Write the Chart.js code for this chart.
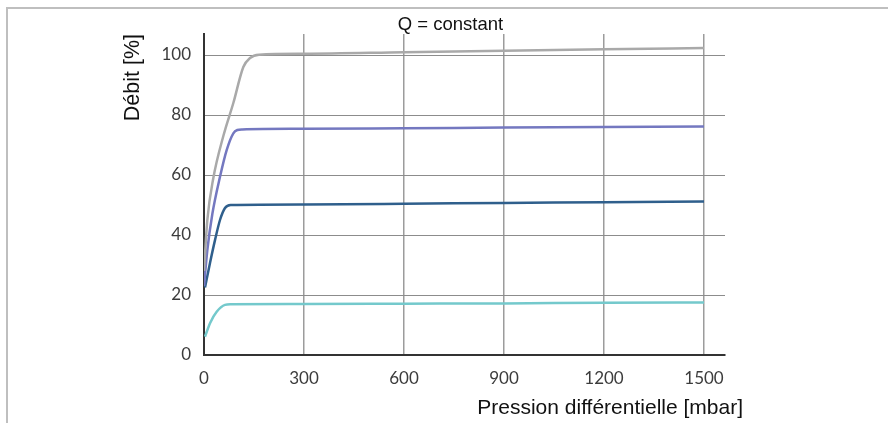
<!DOCTYPE html>
<html>
<head>
<meta charset="utf-8">
<script src="https://cdn.jsdelivr.net/npm/chart.js@4/dist/chart.umd.min.js"></script>
<style>
  html, body { margin: 0; padding: 0; background: #fff; }
  #wrap { position: relative; width: 888px; height: 423px; }
  #frame { position: absolute; left: 6px; top: 7px; right: 0; bottom: 0;
           border-left: 2px solid #bfbfbf; border-top: 2px solid #bfbfbf; }
  #c { position: absolute; left: 0; top: 0; }
</style>
</head>
<body>
<div id="wrap">
  <div id="frame"></div>
  <canvas id="c" width="888" height="423"></canvas>
</div>
<script>
/* Débit vs pression différentielle — Q = constant */

// ── Data ─────────────────────────────────────────────────────
const X_TICKS = [0, 300, 600, 900, 1200, 1500];
const Y_TICKS = [0, 20, 40, 60, 80, 100];

const P_100 = [0, 10, 28, 58, 88, 118, 138, 165, 300, 600, 900, 1200, 1500];
const Q_100 = [28, 45, 59, 73, 84, 96, 99, 100.1, 100.4, 100.9, 101.4, 101.9, 102.3];

const P_75 = [0, 10, 25, 48, 68, 88, 100, 115, 300, 600, 900, 1200, 1500];
const Q_75 = [23, 35, 47, 59.4, 68.3, 73.9, 75, 75.2, 75.4, 75.6, 75.8, 76.0, 76.2];

const P_50 = [3, 18, 33, 48, 63, 80, 300, 600, 900, 1200, 1500];
const Q_50 = [22.5, 30.7, 38.3, 45, 49, 50, 50.2, 50.4, 50.7, 50.9, 51.2];

const P_17 = [3, 18, 38, 63, 80, 300, 600, 900, 1200, 1500];
const Q_17 = [6.1, 10.6, 14.4, 16.7, 16.9, 17.0, 17.1, 17.2, 17.4, 17.5];

const TITLE = 'Q = constant';
const X_TITLE = 'Pression différentielle [mbar]';
const Y_TITLE = 'Débit [%]';

const TICK_COLOR = '#3c3c3c';
const GRID_H = '#8c8c8c';
const GRID_V = '#9c9c9c';
const AXIS_COLOR = '#333';

function pts(px, qy) {
    return px.map(function (p, i) { return { x: p, y: qy[i] }; });
}

function series(label, px, qy, color) {
    return {
        label: label,
        data: pts(px, qy),
        borderColor: color,
        borderWidth: 2.5,
        pointRadius: 0,
        fill: false,
        cubicInterpolationMode: 'monotone'
    };
}

// captions drawn by hand: chart title and x-axis title
const captions = {
    id: 'captions',
    afterDraw: function (chart) {
        const ctx = chart.ctx, a = chart.chartArea;
        ctx.save();
        ctx.fillStyle = '#111';
        ctx.textBaseline = 'middle';
        ctx.font = '18.5px "Liberation Sans", Arial, sans-serif';
        ctx.textAlign = 'center';
        ctx.fillText(TITLE, (a.left + a.right) / 2 - 14, 25);
        ctx.font = '21px "Liberation Sans", Arial, sans-serif';
        ctx.textAlign = 'right';
        ctx.fillText(X_TITLE, a.right + 18, 408);
        ctx.restore();
    }
};

new Chart(document.getElementById('c'), {
    type: 'line',
    data: {
        datasets: [
            series('100 %', P_100, Q_100, '#a9a9a9'),
            series('75 %', P_75, Q_75, '#7478c0'),
            series('50 %', P_50, Q_50, '#2f5f8c'),
            series('17 %', P_17, Q_17, '#74c9cc')
        ]
    },
    options: {
        responsive: false,
        animation: false,
        layout: { padding: { left: 0, right: 163, top: 34, bottom: 0 } },
        plugins: {
            legend: { display: false },
            tooltip: { enabled: false },
            title: { display: false }
        },
        scales: {
            x: {
                type: 'linear',
                min: 0,
                max: 1563,
                afterFit: function (s) { s.height = 68; },
                afterBuildTicks: function (s) { s.ticks = X_TICKS.map(function (v) { return { value: v }; }); },
                ticks: {
                    includeBounds: false,
                    padding: 13,
                    color: TICK_COLOR,
                    font: { family: 'Lato, sans-serif', size: 17 },
                    callback: function (v) { return String(v); }
                },
                grid: { color: GRID_V, lineWidth: 1.5, drawTicks: false },
                border: { color: AXIS_COLOR, width: 2 }
            },
            y: {
                min: 0,
                max: 107,
                afterFit: function (s) { s.width = 204; },
                afterBuildTicks: function (s) { s.ticks = Y_TICKS.map(function (v) { return { value: v }; }); },
                ticks: {
                    includeBounds: false,
                    padding: 13,
                    color: TICK_COLOR,
                    font: { family: 'Lato, sans-serif', size: 17 },
                    callback: function (v) { return String(v); }
                },
                grid: { color: GRID_H, lineWidth: 1, drawTicks: false },
                border: { color: AXIS_COLOR, width: 2 },
                title: {
                    display: true,
                    text: Y_TITLE,
                    align: 'end',
                    color: '#111',
                    padding: { top: 120, bottom: 0 },
                    font: { family: '"Liberation Sans", Arial, sans-serif', size: 21.5 }
                }
            }
        }
    },
    plugins: [captions]
});
</script>
</body>
</html>
